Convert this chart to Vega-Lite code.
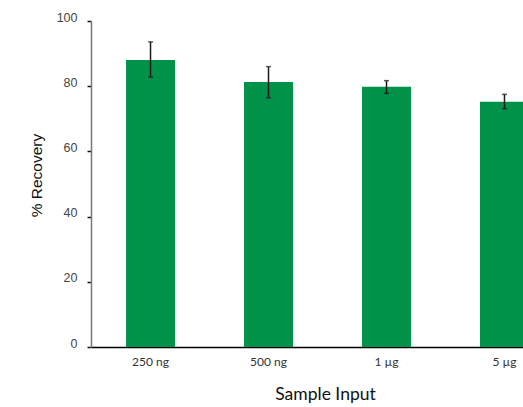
{
  "$schema": "https://vega.github.io/schema/vega-lite/v6.json",
  "width": 432,
  "height": 326,
  "autosize": {"type": "none"},
  "padding": {"left": 91, "top": 21, "right": 0, "bottom": 60},
  "config": {"view": {"stroke": null}, "font": "Liberation Sans"},
  "data": {
    "values": [
      {"input": "250 ng", "recovery": 88.0, "lo": 82.8, "hi": 93.6},
      {"input": "500 ng", "recovery": 81.3, "lo": 76.4, "hi": 86.0},
      {"input": "1 µg", "recovery": 79.8, "lo": 77.8, "hi": 81.7},
      {"input": "5 µg", "recovery": 75.2, "lo": 73.1, "hi": 77.5}
    ]
  },
  "encoding": {
    "x": {
      "field": "input",
      "type": "nominal",
      "sort": null,
      "scale": {"range": [0, 473], "paddingInner": 0.585, "paddingOuter": 0.297},
      "axis": {
        "title": "Sample Input",
        "titleFont": "Lato",
        "titleFontSize": 17.5,
        "titleFontWeight": "normal",
        "titleColor": "#111",
        "titleX": 234,
        "titleY": 38,
        "titleBaseline": "top",
        "labelAngle": 0,
        "labelFont": "Lato",
        "labelFontSize": 12,
        "labelColor": "#333",
        "labelPadding": 9,
        "ticks": false,
        "domainColor": "#000",
        "domainWidth": 1.5
      }
    }
  },
  "layer": [
    {
      "mark": {"type": "bar", "color": "#009249"},
      "encoding": {
        "y": {
          "field": "recovery",
          "type": "quantitative",
          "scale": {"domain": [0, 100], "nice": false},
          "axis": {
            "title": "% Recovery",
            "titleFontSize": 15.5,
            "titleFontWeight": "normal",
            "titleColor": "#111",
            "titleX": -55,
            "titleY": 154,
            "titleAlign": "center",
            "titleBaseline": "middle",
            "titleAngle": -90,
            "values": [0, 20, 40, 60, 80, 100],
            "grid": false,
            "labelFontSize": 12.5,
            "labelColor": "#444",
            "labelBaseline": "alphabetic",
            "labelPadding": 10,
            "tickSize": 4,
            "tickColor": "#111",
            "tickWidth": 1.5,
            "domainColor": "#777",
            "domainWidth": 1.5
          }
        }
      }
    },
    {
      "mark": {"type": "rule", "color": "#1a1a1a", "strokeWidth": 1.5},
      "encoding": {
        "y": {"field": "lo", "type": "quantitative"},
        "y2": {"field": "hi"}
      }
    },
    {
      "mark": {"type": "tick", "color": "#1a1a1a", "thickness": 1.5, "size": 5, "orient": "horizontal"},
      "encoding": {"y": {"field": "hi", "type": "quantitative"}}
    },
    {
      "mark": {"type": "tick", "color": "#1a1a1a", "thickness": 1.5, "size": 5, "orient": "horizontal"},
      "encoding": {"y": {"field": "lo", "type": "quantitative"}}
    }
  ]
}
